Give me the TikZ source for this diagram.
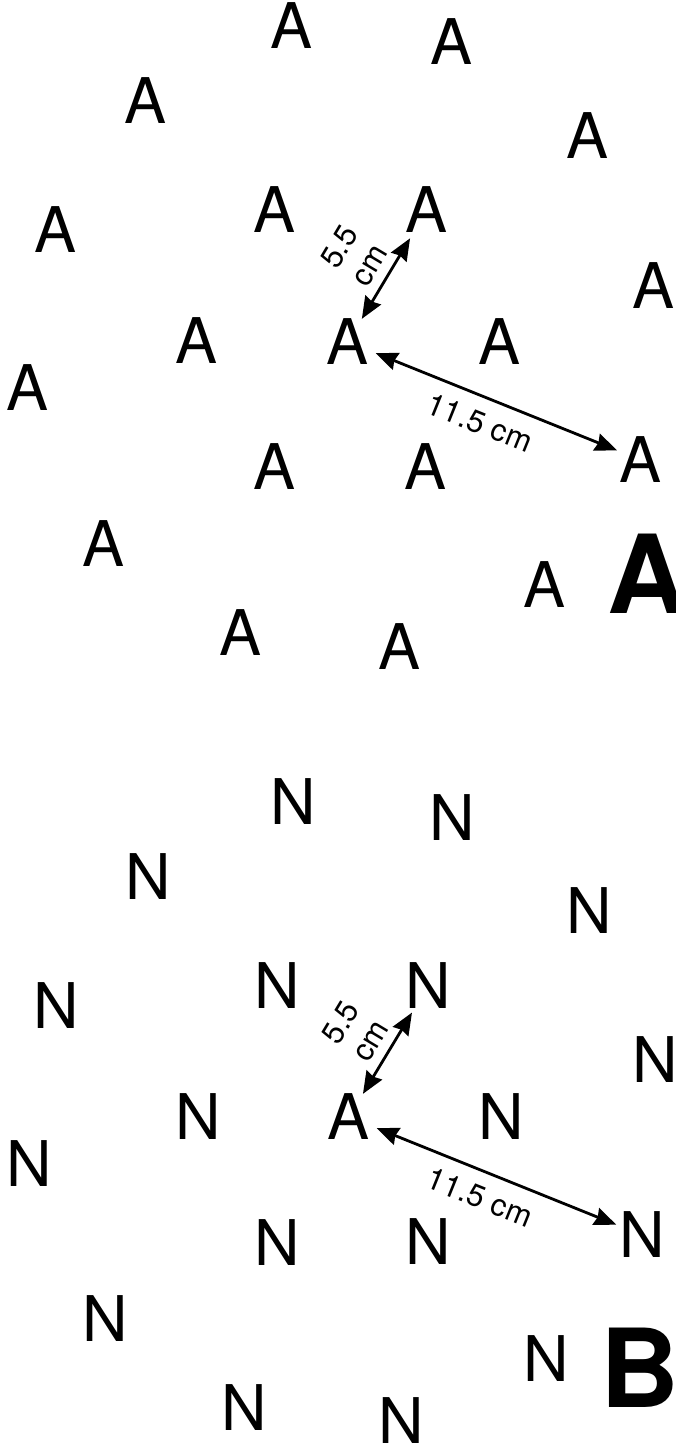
\documentclass[tikz,border=0pt]{standalone}
\usepackage{fontspec}
\setmainfont{TeX Gyre Heros}
\usetikzlibrary{arrows.meta}
\newcommand{\ltrfont}{\fontsize{63}{63}\selectfont}
\newcommand{\lblfont}{\fontsize{31}{35}\selectfont}
\newcommand{\bigfont}{\fontsize{109}{109}\selectfont\bfseries}
\begin{document}
\begin{tikzpicture}[x=1pt,y=-1pt,
  ltr/.style={inner sep=0pt,font=\ltrfont},
  biglbl/.style={inner sep=0pt,anchor=base west,font=\bigfont},
  dim/.style={line width=2.8pt,{Stealth[length=22pt,width=18pt,inset=2pt]}-{Stealth[length=22pt,width=18pt,inset=2pt]}},
  lbl/.style={inner sep=0pt,font=\lblfont,sloped}]
\useasboundingbox (0,0) rectangle (676,1446);
% ---------- panel A ----------
\node[ltr] (a1) at (292,26) {A};
\node[ltr] (a2) at (452,42) {A};
\node[ltr] (a3) at (146,101) {A};
\node[ltr] (a4) at (588,136) {A};
\node[ltr] (a5) at (56,230) {A};
\node[ltr] (a6) at (275,210) {A};
\node[ltr] (a7) at (427,210) {A};
\node[ltr] (a8) at (654,286) {A};
\node[ltr] (a9) at (197,341) {A};
\node[ltr] (a10) at (348,342) {A};
\node[ltr] (a11) at (500,342) {A};
\node[ltr] (a12) at (28,388) {A};
\node[ltr] (a13) at (641,460) {A};
\node[ltr] (a14) at (275,467) {A};
\node[ltr] (a15) at (426,467) {A};
\node[ltr] (a16) at (104,544) {A};
\node[ltr] (a17) at (545,585) {A};
\node[ltr] (a18) at (241,633) {A};
\node[ltr] (a19) at (400,647) {A};
\node[biglbl] (pA) at (607,613) {A};
\draw[dim,shorten >=6pt] (a10) -- (a7)
  node[lbl,pos=0.5,above=9pt,align=center] (l1) {5.5\\cm};
\draw[dim,shorten <=7pt,shorten >=3pt] (a10) -- (a13)
  node[lbl,pos=0.48,below=13pt] (l2) {11.5 cm};
% ---------- panel B ----------
\node[ltr] (n1) at (293,802) {N};
\node[ltr] (n2) at (452,818) {N};
\node[ltr] (n3) at (148,877) {N};
\node[ltr] (n4) at (589,911) {N};
\node[ltr] (n5) at (56,1006) {N};
\node[ltr] (n6) at (277,986) {N};
\node[ltr] (n7) at (428,986) {N};
\node[ltr] (n8) at (655,1060) {N};
\node[ltr] (n9) at (198,1117) {N};
\node[ltr] (c) at (349,1117) {A};
\node[ltr] (n10) at (501,1117) {N};
\node[ltr] (n11) at (29,1164) {N};
\node[ltr] (n12) at (642,1235) {N};
\node[ltr] (n13) at (277,1243) {N};
\node[ltr] (n14) at (428,1242) {N};
\node[ltr] (n15) at (105,1319) {N};
\node[ltr] (n16) at (546,1359) {N};
\node[ltr] (n17) at (244,1408) {N};
\node[ltr] (n18) at (401,1421) {N};
\node[biglbl] (pB) at (600,1407) {B};
\draw[dim,shorten >=4pt] (c) -- (n7)
  node[lbl,pos=0.5,above=9pt,align=center] (l3) {5.5\\cm};
\draw[dim,shorten <=7pt,shorten >=3pt] (c) -- (n12)
  node[lbl,pos=0.48,below=13pt] (l4) {11.5 cm};
\end{tikzpicture}
\end{document}
